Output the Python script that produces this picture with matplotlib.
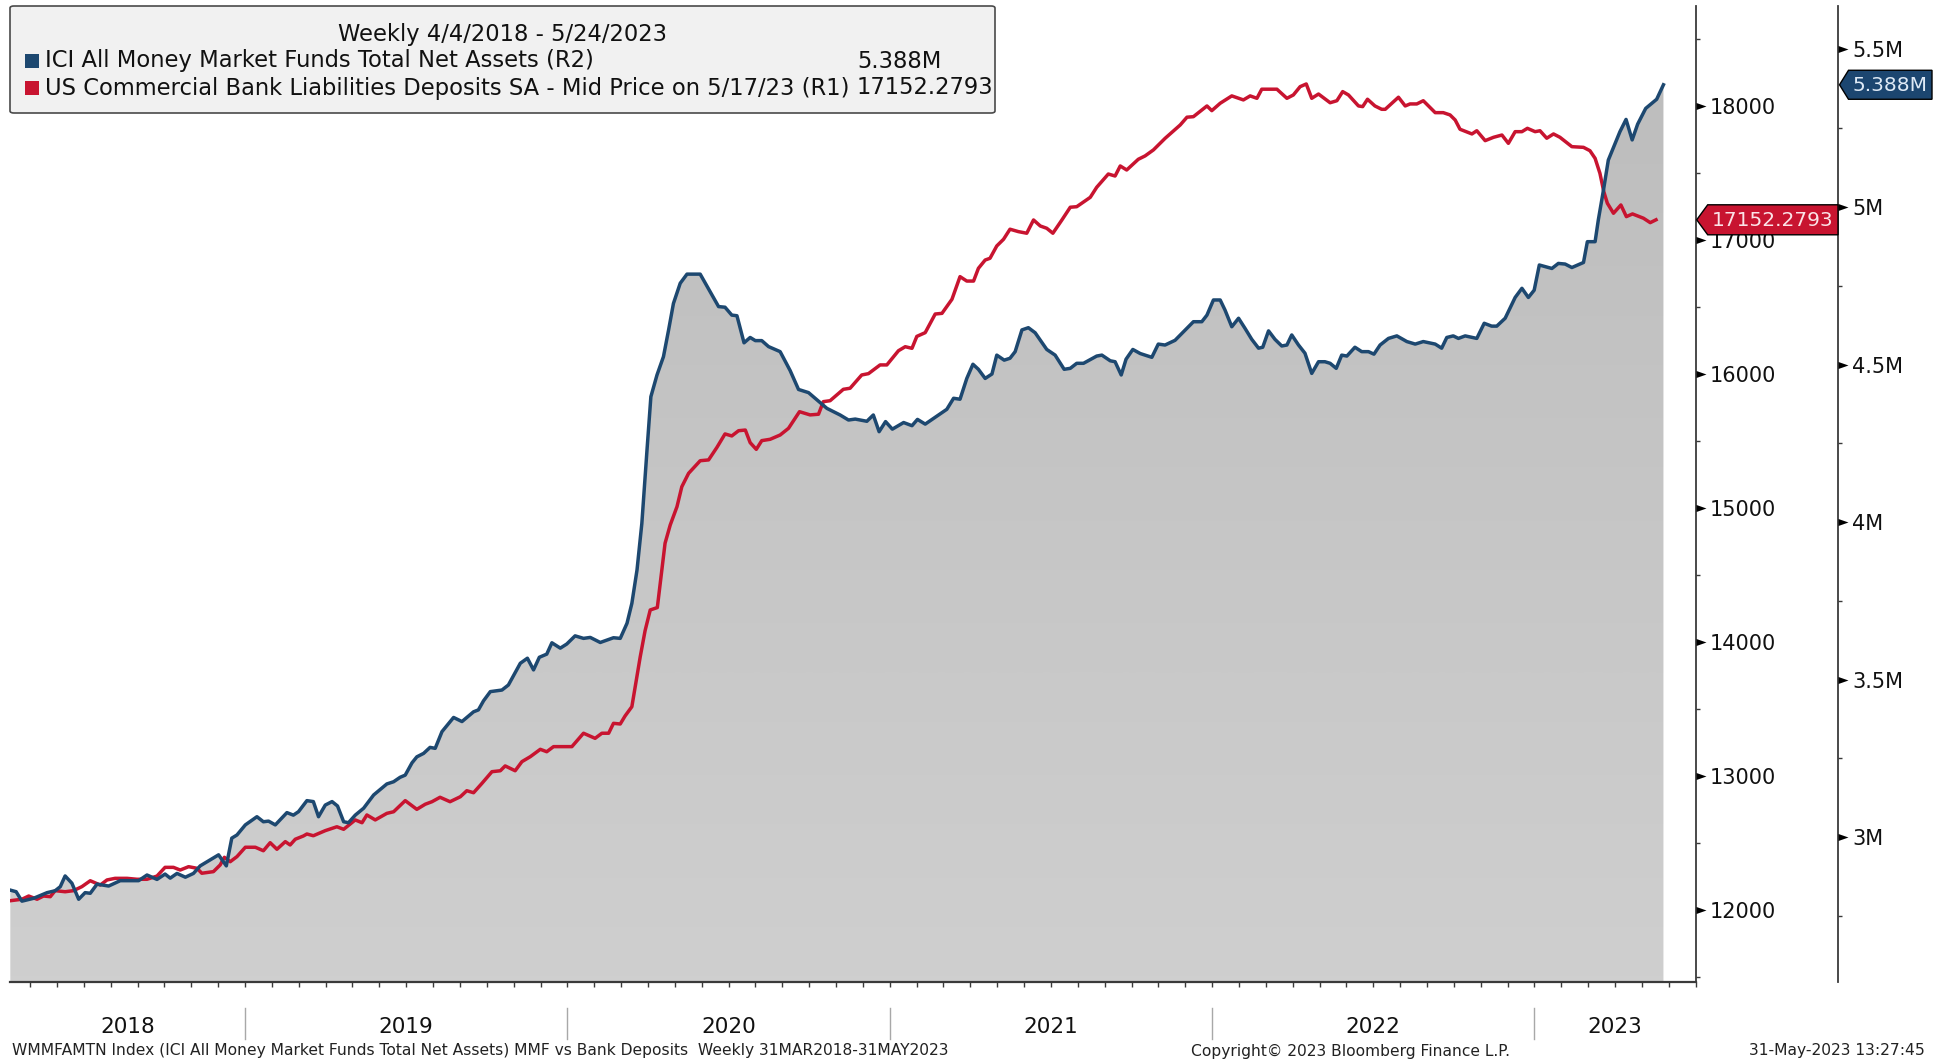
import numpy as np
import matplotlib
matplotlib.use("Agg")
import matplotlib.pyplot as plt
from matplotlib.path import Path
from matplotlib.patches import Polygon, FancyBboxPatch, Rectangle
from matplotlib.colors import LinearSegmentedColormap
from matplotlib.ticker import FixedLocator, NullLocator, FixedFormatter
from matplotlib.transforms import blended_transform_factory

plt.rcParams['font.family'] = ['DejaVu Sans']

# ---------------- data (time in decimal years) ----------------
mmf_t = [2018.272, 2018.290, 2018.308, 2018.344, 2018.386, 2018.411, 2018.427, 2018.442, 2018.463, 2018.484,
         2018.504, 2018.520, 2018.541, 2018.577, 2018.613, 2018.670, 2018.696, 2018.727, 2018.752, 2018.768,
         2018.789, 2018.815, 2018.840, 2018.861, 2018.892, 2018.918, 2018.942, 2018.959, 2018.975, 2019.001,
         2019.037, 2019.057, 2019.073, 2019.094, 2019.130, 2019.150, 2019.166, 2019.192, 2019.212, 2019.228,
         2019.249, 2019.270, 2019.287, 2019.306, 2019.321, 2019.342, 2019.368, 2019.399, 2019.440, 2019.461,
         2019.481, 2019.497, 2019.518, 2019.533, 2019.554, 2019.574, 2019.590, 2019.611, 2019.647, 2019.673,
         2019.709, 2019.724, 2019.740, 2019.761, 2019.797, 2019.817, 2019.854, 2019.876, 2019.895, 2019.913,
         2019.936, 2019.952, 2019.978, 2019.998, 2020.024, 2020.050, 2020.071, 2020.102, 2020.143, 2020.164,
         2020.185, 2020.200, 2020.216, 2020.231, 2020.247, 2020.259, 2020.278, 2020.298, 2020.314, 2020.329,
         2020.350, 2020.371, 2020.412, 2020.443, 2020.469, 2020.489, 2020.510, 2020.526, 2020.548, 2020.567,
         2020.583, 2020.603, 2020.624, 2020.660, 2020.691, 2020.717, 2020.748, 2020.774, 2020.805, 2020.846,
         2020.872, 2020.893, 2020.929, 2020.949, 2020.967, 2020.987, 2021.008, 2021.043, 2021.069, 2021.086,
         2021.110, 2021.156, 2021.177, 2021.198, 2021.218, 2021.239, 2021.258, 2021.275, 2021.296, 2021.317,
         2021.332, 2021.355, 2021.373, 2021.389, 2021.410, 2021.430, 2021.451, 2021.487, 2021.513, 2021.541,
         2021.560, 2021.580, 2021.601, 2021.642, 2021.658, 2021.684, 2021.699, 2021.718, 2021.733, 2021.754,
         2021.777, 2021.813, 2021.833, 2021.854, 2021.885, 2021.911, 2021.942, 2021.968, 2021.984, 2022.004,
         2022.025, 2022.040, 2022.061, 2022.082, 2022.102, 2022.123, 2022.144, 2022.157, 2022.175, 2022.195,
         2022.216, 2022.232, 2022.247, 2022.268, 2022.288, 2022.309, 2022.330, 2022.350, 2022.366, 2022.385,
         2022.402, 2022.418, 2022.443, 2022.464, 2022.485, 2022.502, 2022.521, 2022.547, 2022.573, 2022.604,
         2022.630, 2022.655, 2022.692, 2022.712, 2022.728, 2022.748, 2022.764, 2022.785, 2022.821, 2022.844,
         2022.867, 2022.883, 2022.909, 2022.940, 2022.961, 2022.981, 2022.999, 2023.015, 2023.054, 2023.074,
         2023.095, 2023.116, 2023.152, 2023.164, 2023.188, 2023.198, 2023.214, 2023.229, 2023.250, 2023.265,
         2023.284, 2023.303, 2023.320, 2023.345, 2023.364, 2023.379, 2023.400]
mmf_v = [2.832, 2.827, 2.797, 2.806, 2.824, 2.830, 2.843, 2.877, 2.854, 2.803,
         2.824, 2.822, 2.851, 2.845, 2.862, 2.862, 2.880, 2.866, 2.883, 2.870,
         2.885, 2.873, 2.885, 2.909, 2.928, 2.944, 2.909, 2.997, 3.007, 3.039,
         3.065, 3.049, 3.051, 3.039, 3.078, 3.070, 3.081, 3.116, 3.113, 3.065,
         3.102, 3.113, 3.099, 3.049, 3.046, 3.070, 3.092, 3.134, 3.169, 3.176,
         3.190, 3.197, 3.236, 3.255, 3.266, 3.285, 3.282, 3.335, 3.380, 3.367,
         3.398, 3.404, 3.433, 3.462, 3.467, 3.483, 3.552, 3.568, 3.531, 3.571,
         3.581, 3.617, 3.600, 3.613, 3.639, 3.631, 3.634, 3.618, 3.633, 3.631,
         3.679, 3.742, 3.848, 3.996, 4.229, 4.398, 4.467, 4.525, 4.610, 4.694,
         4.758, 4.787, 4.787, 4.731, 4.684, 4.682, 4.657, 4.655, 4.569, 4.586,
         4.576, 4.576, 4.557, 4.541, 4.481, 4.421, 4.411, 4.388, 4.361, 4.340,
         4.324, 4.327, 4.320, 4.340, 4.287, 4.319, 4.295, 4.316, 4.306, 4.326,
         4.311, 4.343, 4.358, 4.393, 4.390, 4.456, 4.501, 4.485, 4.456, 4.470,
         4.530, 4.514, 4.520, 4.541, 4.610, 4.617, 4.601, 4.548, 4.530, 4.485,
         4.488, 4.504, 4.504, 4.527, 4.530, 4.512, 4.509, 4.467, 4.517, 4.548,
         4.535, 4.523, 4.565, 4.562, 4.577, 4.604, 4.636, 4.636, 4.657, 4.705,
         4.705, 4.673, 4.620, 4.647, 4.615, 4.580, 4.552, 4.555, 4.607, 4.580,
         4.559, 4.562, 4.594, 4.562, 4.536, 4.472, 4.509, 4.509, 4.504, 4.488,
         4.530, 4.527, 4.555, 4.541, 4.541, 4.533, 4.562, 4.583, 4.591, 4.573,
         4.565, 4.573, 4.565, 4.552, 4.586, 4.591, 4.583, 4.591, 4.583, 4.631,
         4.622, 4.622, 4.647, 4.713, 4.742, 4.713, 4.736, 4.816, 4.805, 4.821,
         4.819, 4.808, 4.824, 4.890, 4.890, 4.959, 5.054, 5.149, 5.202, 5.239,
         5.278, 5.213, 5.263, 5.313, 5.329, 5.342, 5.388]

dep_t = [2018.272, 2018.308, 2018.329, 2018.355, 2018.375, 2018.396, 2018.411, 2018.442, 2018.468, 2018.494,
         2018.520, 2018.551, 2018.572, 2018.597, 2018.634, 2018.665, 2018.696, 2018.727, 2018.752, 2018.778,
         2018.799, 2018.825, 2018.851, 2018.866, 2018.902, 2018.923, 2018.936, 2018.954, 2018.975, 2019.001,
         2019.032, 2019.057, 2019.078, 2019.099, 2019.125, 2019.140, 2019.156, 2019.181, 2019.192, 2019.212,
         2019.249, 2019.285, 2019.306, 2019.342, 2019.363, 2019.378, 2019.404, 2019.440, 2019.461, 2019.497,
         2019.533, 2019.559, 2019.580, 2019.605, 2019.636, 2019.668, 2019.688, 2019.709, 2019.735, 2019.766,
         2019.792, 2019.807, 2019.838, 2019.859, 2019.885, 2019.916, 2019.936, 2019.957, 2020.014, 2020.050,
         2020.086, 2020.107, 2020.128, 2020.143, 2020.164, 2020.179, 2020.200, 2020.226, 2020.241, 2020.257,
         2020.279, 2020.293, 2020.303, 2020.319, 2020.340, 2020.355, 2020.376, 2020.412, 2020.438, 2020.464,
         2020.489, 2020.510, 2020.531, 2020.552, 2020.567, 2020.586, 2020.603, 2020.629, 2020.660, 2020.686,
         2020.720, 2020.753, 2020.779, 2020.794, 2020.815, 2020.856, 2020.877, 2020.913, 2020.934, 2020.970,
         2020.991, 2021.027, 2021.048, 2021.069, 2021.084, 2021.110, 2021.141, 2021.162, 2021.193, 2021.218,
         2021.239, 2021.260, 2021.275, 2021.296, 2021.311, 2021.332, 2021.353, 2021.373, 2021.399, 2021.425,
         2021.446, 2021.467, 2021.487, 2021.506, 2021.534, 2021.560, 2021.580, 2021.622, 2021.642, 2021.678,
         2021.699, 2021.715, 2021.735, 2021.771, 2021.792, 2021.818, 2021.854, 2021.901, 2021.922, 2021.942,
         2021.984, 2021.999, 2022.025, 2022.061, 2022.097, 2022.118, 2022.139, 2022.154, 2022.201, 2022.232,
         2022.252, 2022.273, 2022.292, 2022.309, 2022.330, 2022.366, 2022.387, 2022.405, 2022.423, 2022.454,
         2022.467, 2022.482, 2022.505, 2022.526, 2022.537, 2022.578, 2022.599, 2022.614, 2022.635, 2022.655,
         2022.692, 2022.717, 2022.738, 2022.754, 2022.769, 2022.806, 2022.821, 2022.847, 2022.873, 2022.899,
         2022.919, 2022.940, 2022.961, 2022.978, 2023.002, 2023.017, 2023.038, 2023.059, 2023.079, 2023.100,
         2023.116, 2023.152, 2023.172, 2023.188, 2023.203, 2023.215, 2023.226, 2023.245, 2023.268, 2023.285,
         2023.304, 2023.338, 2023.359, 2023.377]
dep_v = [12070, 12081, 12105, 12081, 12105, 12100, 12145, 12137, 12145, 12175,
         12219, 12187, 12225, 12237, 12237, 12230, 12230, 12254, 12319, 12319,
         12299, 12324, 12312, 12275, 12287, 12337, 12394, 12361, 12399, 12469,
         12469, 12443, 12503, 12454, 12511, 12486, 12529, 12553, 12568, 12555,
         12593, 12622, 12603, 12673, 12652, 12710, 12673, 12722, 12734, 12817,
         12752, 12790, 12809, 12842, 12809, 12846, 12891, 12876, 12946, 13033,
         13040, 13076, 13040, 13108, 13145, 13200, 13182, 13220, 13220, 13320,
         13282, 13320, 13320, 13394, 13389, 13449, 13518, 13891, 14085, 14240,
         14258, 14539, 14738, 14874, 15011, 15160, 15260, 15354, 15360, 15454,
         15554, 15539, 15578, 15583, 15489, 15439, 15504, 15514, 15546, 15596,
         15720, 15696, 15701, 15795, 15802, 15887, 15895, 15994, 16004, 16069,
         16069, 16175, 16205, 16193, 16282, 16310, 16449, 16454, 16559, 16728,
         16695, 16695, 16790, 16852, 16865, 16957, 17007, 17082, 17064, 17052,
         17151, 17106, 17089, 17052, 17151, 17246, 17250, 17320, 17395, 17494,
         17479, 17554, 17524, 17604, 17629, 17674, 17760, 17860, 17918, 17922,
         18002, 17967, 18022, 18077, 18047, 18077, 18059, 18127, 18127, 18059,
         18084, 18146, 18166, 18059, 18091, 18026, 18041, 18109, 18084, 18002,
         17997, 18052, 18002, 17977, 17977, 18067, 18002, 18017, 18017, 18041,
         17952, 17952, 17935, 17897, 17828, 17793, 17817, 17743, 17768, 17785,
         17723, 17810, 17810, 17835, 17810, 17817, 17761, 17793, 17768, 17728,
         17698, 17693, 17668, 17611, 17499, 17362, 17276, 17201, 17263, 17176,
         17196, 17164, 17131, 17152.2793]

left_ticks = [12000, 13000, 14000, 15000, 16000, 17000, 18000]
left_minor = [11500, 12500, 13500, 14500, 15500, 16500, 17500, 18500]
right_ticks = [3.0, 3.5, 4.0, 4.5, 5.0, 5.5]
right_labels = ['3M', '3.5M', '4M', '4.5M', '5M', '5.5M']
right_minor = [2.75, 3.25, 3.75, 4.25, 4.75, 5.25]
years = [2018, 2019, 2020, 2021, 2022, 2023]

legend_title = "Weekly 4/4/2018 - 5/24/2023"
mmf_label = "ICI All Money Market Funds Total Net Assets (R2)"
dep_label = "US Commercial Bank Liabilities Deposits SA - Mid Price on 5/17/23 (R1)"
mmf_last = 5.388
mmf_last_label = "5.388M"
dep_last = 17152.2793
dep_last_label = "17152.2793"
footer_left = "WMMFAMTN Index (ICI All Money Market Funds Total Net Assets) MMF vs Bank Deposits  Weekly 31MAR2018-31MAY2023"
footer_mid = "Copyright\u00a9 2023 Bloomberg Finance L.P."
footer_right = "31-May-2023 13:27:45"

BLUE = '#1d4870'
RED = '#c81430'
AXC = '#3a3a3a'

# ---------------- layout ----------------
W, H = 1939, 1062
fig = plt.figure(figsize=(W / 100, H / 100), dpi=100, facecolor='white')
PL, PR, PT, PB = 10, 1696, 6, 981.5
rect = [PL / W, 1 - PB / H, (PR - PL) / W, (PB - PT) / H]


def fx(x):
    return x / W


def fy(y):
    return 1 - y / H


axf = fig.add_axes(rect, label='fill')
ax = fig.add_axes(rect, label='deposits')
axb = fig.add_axes(rect, label='mmf')
for a, z in ((axf, 1), (ax, 2), (axb, 3)):
    a.set_zorder(z)
    a.patch.set_visible(False)
    for s in a.spines.values():
        s.set_visible(False)

XMIN, XMAX = 2018.271, 2023.501
L_LIM = (11467, 18748)
R_LIM = (2.542, 5.638)

# gradient grey area under the MMF line
grad = np.linspace(0, 1, 256).reshape(-1, 1)
cmap = LinearSegmentedColormap.from_list('bbg', ['#cfcfcf', '#bcbcbc'])
img = axf.imshow(grad, extent=[XMIN, XMAX, R_LIM[0], R_LIM[1]], origin='lower',
                 aspect='auto', cmap=cmap, interpolation='bilinear')
poly = axf.fill_between(mmf_t, mmf_v, R_LIM[0], facecolor='none', edgecolor='none')
img.set_clip_path(poly.get_paths()[0], transform=axf.transData)
axf.set_xticks([])
axf.set_yticks([])

ax.plot(dep_t, dep_v, color=RED, lw=2.5, solid_joinstyle='round')
axb.plot(mmf_t, mmf_v, color=BLUE, lw=2.5, solid_joinstyle='round')

for a in (axf, ax, axb):
    a.set_xlim(XMIN, XMAX)
ax.set_ylim(*L_LIM)
axf.set_ylim(*R_LIM)
axb.set_ylim(*R_LIM)

# deposits axis (R1)
ax.spines['right'].set_visible(True)
ax.spines['right'].set_color(AXC)
ax.spines['right'].set_linewidth(1.3)
ax.spines['bottom'].set_visible(True)
ax.spines['bottom'].set_color(AXC)
ax.spines['bottom'].set_linewidth(1.6)
ax.yaxis.tick_right()
ax.yaxis.set_major_locator(FixedLocator(left_ticks))
ax.yaxis.set_major_formatter(FixedFormatter([str(v) for v in left_ticks]))
ax.yaxis.set_minor_locator(FixedLocator(left_minor))
ax.tick_params(axis='y', which='major', length=0, pad=10, labelsize=15, labelcolor='#111111')
ax.tick_params(axis='y', which='minor', length=3, width=1, color=AXC, direction='out')

month_ticks = [y + m / 12 for y in range(2018, 2024) for m in range(12)
               if XMIN < y + m / 12 <= XMAX]
ax.xaxis.set_major_locator(NullLocator())
ax.xaxis.set_minor_locator(FixedLocator(month_ticks))
ax.tick_params(axis='x', which='minor', length=3.3, width=1, color=AXC, direction='out')

# MMF axis (R2)
OUT_PX = 142
axb.spines['right'].set_visible(True)
axb.spines['right'].set_color(AXC)
axb.spines['right'].set_linewidth(1.3)
axb.spines['right'].set_position(('outward', OUT_PX * 0.72))
axb.set_xticks([])
axb.yaxis.tick_right()
axb.yaxis.set_major_locator(FixedLocator(right_ticks))
axb.yaxis.set_major_formatter(FixedFormatter(right_labels))
axb.yaxis.set_minor_locator(FixedLocator(right_minor))
axb.tick_params(axis='y', which='major', length=0, pad=10, labelsize=15, labelcolor='#111111')
axb.tick_params(axis='y', which='minor', length=3, width=1, color=AXC, direction='out')

# triangular major tick marks
tri = Path([(0, -0.35), (1, 0), (0, 0.35), (0, -0.35)],
           [Path.MOVETO, Path.LINETO, Path.LINETO, Path.CLOSEPOLY])
ms = 20 * 0.72
ax.plot([1] * len(left_ticks), left_ticks, ls='none', marker=tri, ms=ms, mew=0, color='black',
        transform=blended_transform_factory(ax.transAxes, ax.transData), clip_on=False, zorder=6)
xr = 1 + OUT_PX / (PR - PL)
axb.plot([xr] * len(right_ticks), right_ticks, ls='none', marker=tri, ms=ms, mew=0, color='black',
         transform=blended_transform_factory(axb.transAxes, axb.transData), clip_on=False, zorder=6)

# year labels and separators
bt = blended_transform_factory(ax.transData, ax.transAxes)
for y in years:
    lo = max(y, XMIN)
    hi = min(y + 1, XMAX)
    ax.text((lo + hi) / 2, -0.0462, str(y), transform=bt, ha='center', va='center',
            fontsize=15.5, color='#111111')
    if y > years[0]:
        ax.plot([y, y], [-0.0272, -0.0589], transform=bt, color='#a8a8a8', lw=1, clip_on=False)


# last-value tags
def tag(x_tip, x_right, y, w_tip, half_h, face, text, tcolor):
    verts = [(x_tip, y), (x_tip + w_tip, y - half_h), (x_right, y - half_h),
             (x_right, y + half_h), (x_tip + w_tip, y + half_h)]
    p = Polygon([(fx(a), fy(b)) for a, b in verts], closed=True, transform=fig.transFigure,
                facecolor=face, edgecolor='black', lw=1, zorder=10)
    fig.add_artist(p)
    fig.text(fx((x_tip + w_tip + x_right) / 2), fy(y + 1), text, ha='center', va='center',
             color=tcolor, fontsize=14.5, zorder=11)


y_red = H - ax.transData.transform((XMIN, dep_last))[1]
y_blue = H - axb.transData.transform((XMIN, mmf_last))[1]
tag(PR + 0.7, PR + OUT_PX, y_red, 11, 15, RED, dep_last_label, '#fbe3e7')
tag(PR + OUT_PX + 1.5, 1932, y_blue, 9, 14.5, '#1c4670', mmf_last_label, '#dfeaf6')

# legend box
box = FancyBboxPatch((fx(10), fy(113)), 985 / W, 107 / H,
                     boxstyle='round,pad=0,rounding_size=0.002', transform=fig.transFigure,
                     facecolor='#f1f1f1', edgecolor='#4a4a4a', lw=1.2, zorder=12)
fig.add_artist(box)
fig.text(fx(502), fy(35), legend_title, ha='center', va='center', fontsize=16.3, color='#111111', zorder=13)
for yc, col, lab, val in ((61, BLUE, mmf_label, mmf_last_label), (88, RED, dep_label, dep_last_label)):
    fig.add_artist(Rectangle((fx(25), fy(yc + 7)), 14 / W, 14 / H, transform=fig.transFigure,
                             facecolor=col, edgecolor='none', zorder=13))
    fig.text(fx(45), fy(yc), lab, ha='left', va='center', fontsize=16.3, color='#111111', zorder=13)
    fig.text(fx(857), fy(yc), val, ha='left', va='center', fontsize=16.3, color='#111111', zorder=13)

# footer
fig.text(fx(12), fy(1051), footer_left, ha='left', va='center', fontsize=11.2, color='#222222')
fig.text(fx(1191), fy(1051), footer_mid, ha='left', va='center', fontsize=11.2, color='#222222')
fig.text(fx(1925), fy(1051), footer_right, ha='right', va='center', fontsize=11.2, color='#222222')

fig.savefig('out.png', dpi=100, facecolor='white')
